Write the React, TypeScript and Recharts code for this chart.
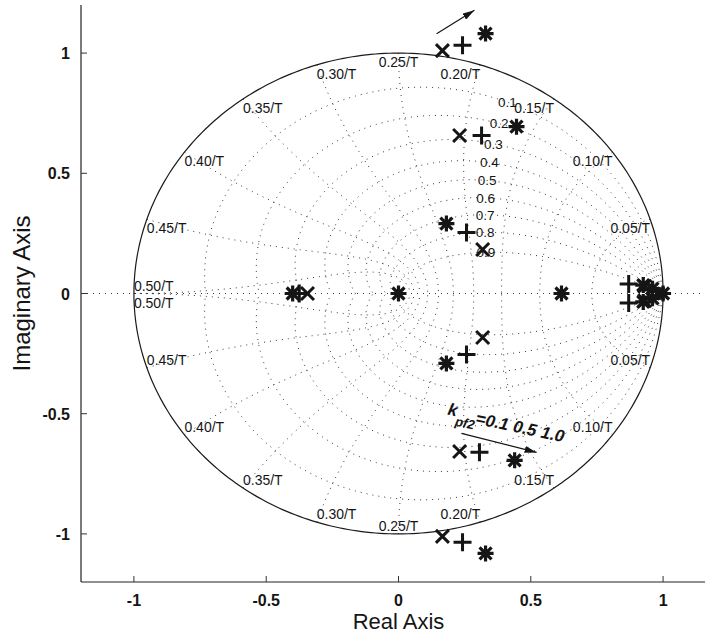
import React from 'react';
import { ScatterChart, Scatter, XAxis, YAxis, ReferenceLine } from 'recharts';

const FONT = '"Liberation Sans", Arial, Helvetica, sans-serif';
const INK = '#151515';
const GRID = '#3a3a3a';

const xTicks = [-1, -0.5, 0, 0.5, 1];
const yTicks = [-1, -0.5, 0, 0.5, 1];

// z-plane grid: damping ratios and natural frequencies (wn*T in units of pi)
const zetaValues = [0.1, 0.2, 0.3, 0.4, 0.5, 0.6, 0.7, 0.8, 0.9];
const zetaLabels = ['0.1', '0.2', '0.3', '0.4', '0.5', '0.6', '0.7', '0.8', '0.9'];
const wnValues = [0.1, 0.2, 0.3, 0.4, 0.5, 0.6, 0.7, 0.8, 0.9, 1.0];
const wnLabels = ['0.05/T', '0.10/T', '0.15/T', '0.20/T', '0.25/T', '0.30/T', '0.35/T', '0.40/T', '0.45/T', '0.50/T'];
const zetaLabelWn = 0.35;

// closed-loop poles: kpf2 = 0.1 (x), 0.5 (+), 1.0 (*)
const polesK01 = [
  { x: 0.166, y: 1.01 }, { x: 0.231, y: 0.657 }, { x: 0.318, y: 0.183 }, { x: -0.344, y: 0 },
  { x: 0.93, y: 0.03 }, { x: 0.98, y: 0 }, { x: 0.93, y: -0.03 },
  { x: 0.318, y: -0.183 }, { x: 0.231, y: -0.657 }, { x: 0.166, y: -1.01 },
];
const polesK05 = [
  { x: 0.242, y: 1.033 }, { x: 0.314, y: 0.657 }, { x: 0.257, y: 0.254 }, { x: -0.375, y: 0 },
  { x: 0.87, y: 0.04 }, { x: 0.96, y: 0.015 }, { x: 0.96, y: -0.015 }, { x: 0.87, y: -0.04 },
  { x: 0.257, y: -0.254 }, { x: 0.306, y: -0.66 }, { x: 0.242, y: -1.035 },
];
const polesK10 = [
  { x: 0.329, y: 1.081 }, { x: 0.446, y: 0.694 }, { x: 0.181, y: 0.291 }, { x: 0, y: 0 },
  { x: -0.4, y: 0 }, { x: 0.616, y: 0 }, { x: 0.925, y: 0.035 }, { x: 0.96, y: 0.02 },
  { x: 1.0, y: 0 }, { x: 0.96, y: -0.02 }, { x: 0.925, y: -0.035 },
  { x: 0.181, y: -0.291 }, { x: 0.439, y: -0.694 }, { x: 0.329, y: -1.081 },
];

const arrowUp = [{ x: 0.144, y: 1.08 }, { x: 0.287, y: 1.178 }];
const arrowDown = [{ x: 0.238, y: -0.582 }, { x: 0.522, y: -0.661 }];
const gainNote = [{ x: 0.181, y: -0.516 }];

// --- grid geometry built from the values above ---
const STEPS = 80;

const zetaCurve = (zeta: number, sign: number) => {
  const pts = [];
  for (let i = 0; i <= STEPS; i++) {
    const th = (Math.PI * i) / STEPS;
    const r = Math.exp((-zeta * th) / Math.sqrt(1 - zeta * zeta));
    pts.push({ x: r * Math.cos(th), y: sign * r * Math.sin(th) });
  }
  return pts;
};

const wnCurve = (wn: number, sign: number) => {
  const a = wn * Math.PI;
  const pts = [];
  for (let i = 0; i <= STEPS; i++) {
    const z = i / STEPS;
    const r = Math.exp(-z * a);
    const th = a * Math.sqrt(1 - z * z);
    pts.push({ x: r * Math.cos(th), y: sign * r * Math.sin(th) });
  }
  return pts;
};

const unitCircle = Array.from({ length: 361 }, (_, i) => ({
  x: Math.cos((i * Math.PI) / 180),
  y: Math.sin((i * Math.PI) / 180),
}));

const gridCurves = [
  ...zetaValues.flatMap((z) => [zetaCurve(z, 1), zetaCurve(z, -1)]),
  ...wnValues.flatMap((w) => [wnCurve(w, 1), wnCurve(w, -1)]),
];

const wnLabelPts = wnValues.flatMap((w, i) => [1, -1].map((s) => ({
  x: Math.cos(w * Math.PI),
  y: s * Math.sin(w * Math.PI),
  text: wnLabels[i],
  below: w === 1 ? s < 0 : s > 0,
})));

const zetaLabelPts = zetaValues.map((z, i) => {
  const a = zetaLabelWn * Math.PI;
  const r = Math.exp(-z * a);
  const th = a * Math.sqrt(1 - z * z);
  return { x: r * Math.cos(th), y: r * Math.sin(th), text: zetaLabels[i] };
});

// --- shapes ---
const Nothing = () => <g />;

const CrossMark = ({ cx, cy }: any) => (
  <path d={`M${cx - 6.5},${cy - 6.5}L${cx + 6.5},${cy + 6.5}M${cx - 6.5},${cy + 6.5}L${cx + 6.5},${cy - 6.5}`} stroke={INK} strokeWidth={3} />
);
const PlusMark = ({ cx, cy }: any) => (
  <path d={`M${cx - 9},${cy}L${cx + 9},${cy}M${cx},${cy - 9}L${cx},${cy + 9}`} stroke={INK} strokeWidth={3} />
);
const StarMark = ({ cx, cy }: any) => (
  <path
    d={`M${cx - 8},${cy}L${cx + 8},${cy}M${cx},${cy - 8}L${cx},${cy + 8}M${cx - 6},${cy - 6}L${cx + 6},${cy + 6}M${cx - 6},${cy + 6}L${cx + 6},${cy - 6}`}
    stroke={INK}
    strokeWidth={3.2}
  />
);

const WnLabel = ({ cx, cy, payload }: any) => {
  const anchor = payload.x > 0.01 ? 'end' : payload.x < -0.01 ? 'start' : 'middle';
  return (
    <text x={cx} y={payload.below ? cy + 14 : cy - 3} textAnchor={anchor} fontSize={14} fill={INK}>
      {payload.text}
    </text>
  );
};

const ZetaLabel = ({ cx, cy, payload }: any) => (
  <text x={cx} y={cy} dy="0.36em" textAnchor="middle" fontSize={13.5} fill={INK}>
    {payload.text}
  </text>
);

const GainNote = ({ cx, cy }: any) => (
  <text x={cx} y={cy} transform={`rotate(12 ${cx} ${cy})`} fontSize={17} fontWeight="bold" fontStyle="italic" fill={INK}>
    <tspan dy={-3}>k</tspan>
    <tspan fontSize={13} dy={9}>pf2</tspan>
    <tspan dy={-6}>=0.1 0.5 1.0</tspan>
  </text>
);

const TICK_GAP = 12;

const BottomTick = ({ x, y, payload }: any) => {
  const axisY = y - TICK_GAP;
  return (
    <g>
      <line x1={x} x2={x} y1={axisY} y2={axisY - 6} stroke="#333" />
      <text x={x} y={axisY + 24} textAnchor="middle" fontSize={16} fontWeight="bold" fill={INK}>
        {payload.value}
      </text>
    </g>
  );
};

const TopTick = ({ x, y }: any) => <line x1={x} x2={x} y1={y} y2={y + 6} stroke="#333" />;

const LeftTick = ({ x, y, payload }: any) => {
  const axisX = x + 11;
  return (
    <g>
      <line x1={axisX} x2={axisX + 6} y1={y} y2={y} stroke="#333" />
      <text x={x} y={y + 6} textAnchor="end" fontSize={16} fontWeight="bold" fill={INK}>
        {payload.value}
      </text>
    </g>
  );
};

const XTitle = ({ viewBox }: any) => (
  <text x={viewBox.x + viewBox.width / 2} y={viewBox.y + 47} textAnchor="middle" fontSize={22} fill={INK}>
    Real Axis
  </text>
);

const YTitle = ({ viewBox }: any) => {
  const cy = viewBox.y + viewBox.height / 2;
  return (
    <text x={30} y={cy} transform={`rotate(-90 30 ${cy})`} textAnchor="middle" fontSize={24} fill={INK}>
      Imaginary Axis
    </text>
  );
};

const dotted = { stroke: GRID, strokeWidth: 1, strokeDasharray: '1 5' };

export default function App() {
  return (
    <div style={{ position: 'absolute', left: 0, top: 0, width: 705, height: 635, overflow: 'hidden', background: '#fff' }}>
      <svg width={0} height={0} style={{ position: 'absolute' }}>
        <defs>
          <marker id="arrowHead" viewBox="0 0 12 7" refX={12} refY={3.5} markerWidth={12} markerHeight={7} markerUnits="userSpaceOnUse" orient="auto">
            <path d="M0,0L12,3.5L0,7z" fill={INK} />
          </marker>
        </defs>
      </svg>
      <ScatterChart width={720} height={635} margin={{ top: 5, right: 4, left: 0, bottom: 0 }} style={{ fontFamily: FONT }}>
        <XAxis
          type="number"
          dataKey="x"
          domain={[-1.2, 1.2]}
          ticks={xTicks}
          interval={0}
          height={53}
          tickSize={0}
          tickMargin={TICK_GAP}
          tickLine={false}
          tick={<BottomTick />}
          axisLine={{ stroke: '#222', strokeWidth: 1.2 }}
          allowDataOverflow
          label={{ content: <XTitle /> }}
        />
        <XAxis
          xAxisId="top"
          orientation="top"
          type="number"
          dataKey="x"
          domain={[-1.2, 1.2]}
          ticks={xTicks}
          interval={0}
          height={0}
          tickSize={0}
          tickMargin={0}
          tickLine={false}
          tick={<TopTick />}
          axisLine={{ stroke: '#222', strokeWidth: 1.2 }}
          allowDataOverflow
        />
        <YAxis
          type="number"
          dataKey="y"
          domain={[-1.2, 1.2]}
          ticks={yTicks}
          interval={0}
          width={81}
          tickSize={0}
          tickMargin={11}
          tickLine={false}
          tick={<LeftTick />}
          axisLine={{ stroke: '#222', strokeWidth: 1.2 }}
          allowDataOverflow
          label={{ content: <YTitle /> }}
        />
        <ReferenceLine y={0} stroke={GRID} strokeDasharray="1 5" />
        {gridCurves.map((pts, i) => (
          <Scatter key={`g${i}`} data={pts} line={dotted} shape={<Nothing />} isAnimationActive={false} />
        ))}
        <Scatter data={unitCircle} line={{ stroke: '#1a1a1a', strokeWidth: 1.2 }} shape={<Nothing />} isAnimationActive={false} />
        <Scatter data={wnLabelPts} shape={<WnLabel />} isAnimationActive={false} />
        <Scatter data={zetaLabelPts} shape={<ZetaLabel />} isAnimationActive={false} />
        <Scatter data={polesK01} shape={<CrossMark />} isAnimationActive={false} />
        <Scatter data={polesK05} shape={<PlusMark />} isAnimationActive={false} />
        <Scatter data={polesK10} shape={<StarMark />} isAnimationActive={false} />
        <Scatter data={arrowUp} line={{ stroke: INK, strokeWidth: 1.2, markerEnd: 'url(#arrowHead)' }} shape={<Nothing />} isAnimationActive={false} />
        <Scatter data={arrowDown} line={{ stroke: INK, strokeWidth: 1.2, markerEnd: 'url(#arrowHead)' }} shape={<Nothing />} isAnimationActive={false} />
        <Scatter data={gainNote} shape={<GainNote />} isAnimationActive={false} />
      </ScatterChart>
    </div>
  );
}
